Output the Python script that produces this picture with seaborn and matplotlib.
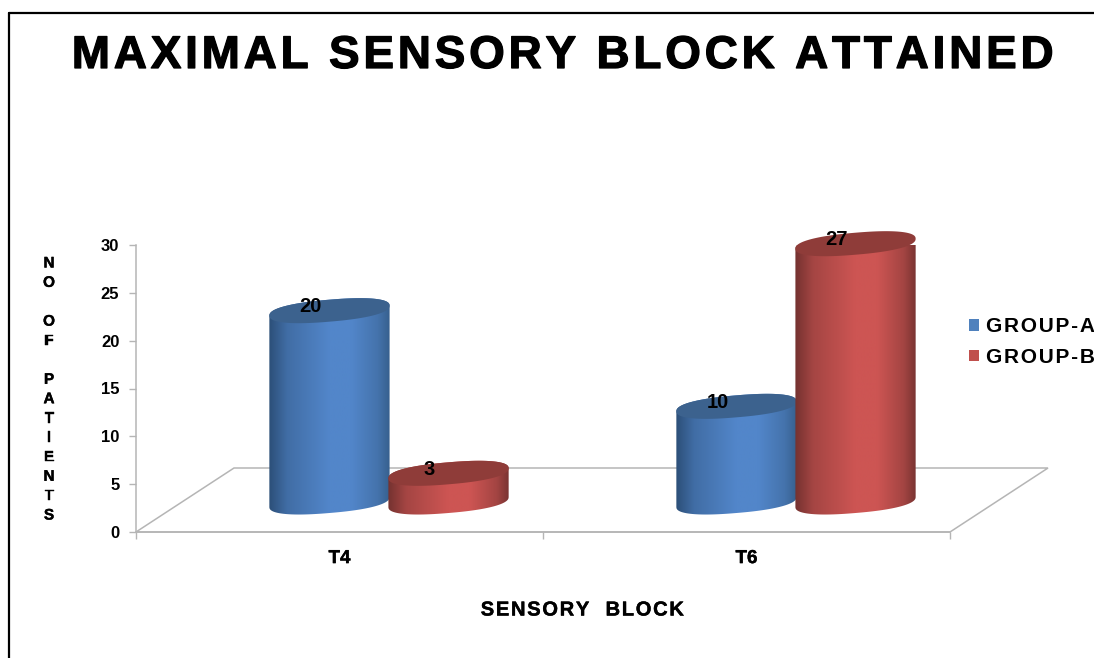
import numpy as np
import pandas as pd
import matplotlib
matplotlib.use("Agg")
import matplotlib.pyplot as plt
import matplotlib.patheffects as pe
from matplotlib.colors import LinearSegmentedColormap, to_rgb
from matplotlib.lines import Line2D
from matplotlib.patches import Patch, PathPatch, Polygon
from matplotlib.path import Path
import seaborn as sns

# Values
blocks = ["T4", "T6"]
group_names = ["GROUP-A", "GROUP-B"]
group_a = [20, 10]
group_b = [3, 27]
y_ticks = [0, 5, 10, 15, 20, 25, 30]

# Colours: base, top face, shaded edges
base_colors = {"GROUP-A": "#4f81bd", "GROUP-B": "#c0504d"}
shades = [
    {"edge_l": "#2c4f78", "mid": "#5286ca", "edge_r": "#37608e", "top": "#3c628e"},
    {"edge_l": "#743230", "mid": "#cd5553", "edge_r": "#7a3432", "top": "#8f3c39"},
]

df = pd.DataFrame({
    "block": blocks * 2,
    "group": [group_names[0]] * 2 + [group_names[1]] * 2,
    "patients": group_a + group_b,
})

sns.set_theme(style="white")
plt.rcParams["font.family"] = ["Liberation Sans", "DejaVu Sans"]


def spaced(text, gap="\u200a"):
    """Open up the letter spacing of a label with hair spaces."""
    return gap.join(text)


def heavier(width):
    """Thicken glyph strokes a little beyond the regular bold weight."""
    return [pe.withStroke(linewidth=width, foreground="black")]


W, H = 1094, 658
fig = plt.figure(figsize=(W / 100, H / 100), dpi=100, facecolor="white")
ax = fig.add_axes([136 / W, (H - 532) / H, 814 / W, 287 / H])

sns.barplot(data=df, x="block", y="patients", hue="group", order=blocks,
            hue_order=group_names, palette=base_colors, width=0.585,
            saturation=1, legend=False, ax=ax)

px_x = 814 / 2.0   # pixels per category
px_y = 287 / 30.0  # pixels per patient

# Perspective offsets in data units
floor_dx, floor_dy = 98 / px_x, 64 / px_y
bar_dx, bar_dy = 49.5 / px_x, 30 / px_y
cap_b, cap_tilt = 11.0, 5.0  # cap minor radius and rise across half its width, px

# Floor of the 3-D scene
floor_grey = "#b5b5b5"
ax.add_patch(Polygon([(-0.5, 0), (1.5, 0), (1.5 + floor_dx, floor_dy), (-0.5 + floor_dx, floor_dy)],
                     closed=True, fill=False, edgecolor=floor_grey, lw=1.1,
                     clip_on=False, zorder=1))


def cap_outline(xc, yc, half, t):
    # Slightly squarish tilted ellipse for the cylinder ends
    c = np.sign(np.cos(t)) * np.abs(np.cos(t)) ** 0.85
    s = np.sign(np.sin(t)) * np.abs(np.sin(t)) ** 0.85
    return xc + half * c, yc + (cap_b * s + cap_tilt * c) / px_y


def blend(a, b, k):
    a, b = np.array(to_rgb(a)), np.array(to_rgb(b))
    return tuple(a + (b - a) * k)


t_all = np.linspace(0, 2 * np.pi, 180)
t_low = np.linspace(np.pi, 2 * np.pi, 90)
t_up = np.linspace(0, np.pi, 90)
z = 3

for container in ax.containers:
    for bar in container:
        bar.set_visible(False)

# Replace each flat bar with a shaded cylinder built from its own geometry
for i in range(len(blocks)):
    for container, shade in zip(ax.containers, shades):
        bar = container[i]
        cmap = LinearSegmentedColormap.from_list("cyl", [
            (0, shade["edge_l"]),
            (0.15, blend(shade["edge_l"], shade["mid"], 0.55)),
            (0.5, shade["mid"]),
            (0.68, shade["mid"]),
            (0.9, blend(shade["edge_r"], shade["mid"], 0.5)),
            (1, shade["edge_r"]),
        ])
        value = bar.get_height()
        xc = bar.get_x() + bar.get_width() / 2 + bar_dx
        half = bar.get_width() / 2 * 1.01
        y_base, y_top = bar_dy, bar_dy + value

        xt, yt = cap_outline(xc, y_top, half, t_all)
        xb, yb = cap_outline(xc, y_base, half, t_low)
        xu, yu = cap_outline(xc, y_top, half, t_up)
        verts = np.column_stack([np.r_[xb, xu], np.r_[yb, yu]])
        body = PathPatch(Path(np.vstack([verts, verts[0]]), closed=True),
                         transform=ax.transData, facecolor="none", edgecolor="none",
                         clip_on=False)
        ax.add_patch(body)
        grad = np.linspace(0, 1, 256).reshape(1, -1)
        im = ax.imshow(grad, cmap=cmap, aspect="auto", interpolation="bilinear",
                       extent=(xc - half, xc + half, 0, 40), zorder=z)
        im.set_clip_path(body)
        ax.add_patch(Polygon(np.column_stack([xt, yt]), closed=True, facecolor=shade["top"],
                             edgecolor="none", zorder=z + 0.5, clip_on=False))
        ax.text(xc - 19 / px_x, y_top + 4 / px_y, f"{value:.0f}", ha="center", va="center",
                fontsize=14.5, fontweight="bold", color="black", zorder=50, clip_on=False)
        z += 1

ax.set_xlim(-0.5, 1.5)
ax.set_ylim(0, 30)

# Axes styling
for side in ("top", "right"):
    ax.spines[side].set_visible(False)
for side in ("left", "bottom"):
    ax.spines[side].set_color(floor_grey)
    ax.spines[side].set_linewidth(1.1)
ax.set_yticks(y_ticks)
ax.set_yticklabels([str(v) for v in y_ticks], fontsize=12, fontweight="bold", color="black")
ax.set_xticks([-0.5, 0.5, 1.5])
ax.set_xticklabels([])
ax.set_xticks([0, 1], labels=blocks, minor=True)
ax.tick_params(axis="x", which="minor", length=0, pad=13, labelsize=13.5)
for lab in ax.get_xticklabels(minor=True):
    lab.set_fontweight("bold")
    lab.set_color("black")
    lab.set_path_effects(heavier(0.3))
ax.tick_params(axis="both", which="major", length=5, width=1.0, color=floor_grey, left=True, bottom=True)
ax.tick_params(axis="y", pad=7)
ax.set_xlabel("")
ax.set_ylabel("")

# Titles written straight on the figure
fig.text(564 / W, 1 - 56 / H, spaced("MAXIMAL SENSORY BLOCK ATTAINED"), ha="center", va="center",
         fontsize=33, fontweight="bold", color="black", path_effects=heavier(0.9))
fig.text(582 / W, 1 - 610 / H, spaced("SENSORY  BLOCK"), ha="center", va="center",
         fontsize=14.5, fontweight="bold", color="black", path_effects=heavier(0.3))
fig.text(49 / W, 1 - 389.5 / H, "N\nO\n\nO\nF\n\nP\nA\nT\nI\nE\nN\nT\nS", ha="center", va="center",
         fontsize=11, fontweight="bold", color="black", linespacing=1.49, path_effects=heavier(0.3))

# Legend, running off the right edge as laid out
handles = [Patch(facecolor=base_colors[g], edgecolor="none", label=spaced(g)) for g in group_names]
fig.legend(handles=handles, loc="center left", bbox_to_anchor=(969 / W, 1 - 342 / H),
           frameon=False, prop={"weight": "bold", "size": 15}, labelcolor="black",
           borderpad=0, borderaxespad=0,
           handlelength=0.48, handleheight=0.48, handletextpad=0.34, labelspacing=0.55)

# Outer frame on the left and top only
frame = dict(color="black", lw=1.6, transform=fig.transFigure)
fig.add_artist(Line2D([8.5 / W, 8.5 / W], [0, 1 - 12.5 / H], **frame))
fig.add_artist(Line2D([8.5 / W, 1], [1 - 12.5 / H, 1 - 12.5 / H], **frame))

fig.savefig("out.png", dpi=100, facecolor="white")
